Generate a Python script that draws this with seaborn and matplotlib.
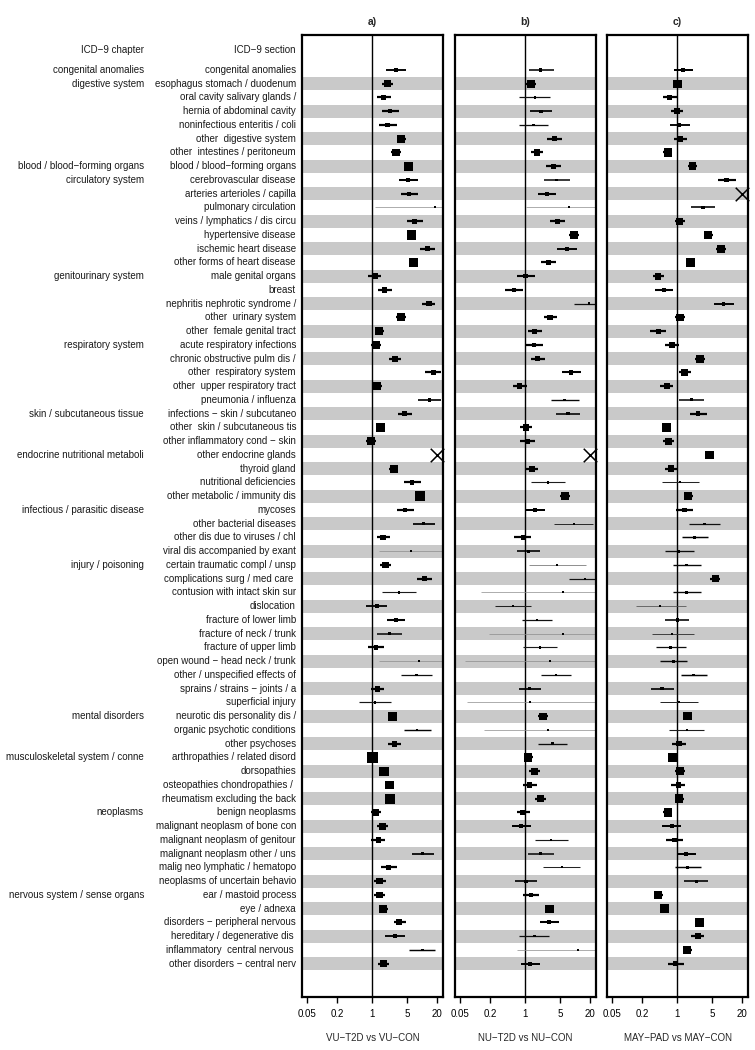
import numpy as np
import pandas as pd
import matplotlib
matplotlib.use('Agg')
import matplotlib.pyplot as plt
import matplotlib.transforms as mtransforms
import seaborn as sns

M = '\u2212'

sections = [
    'congenital anomalies', 'esophagus stomach / duodenum', 'oral cavity salivary glands /',
    'hernia of abdominal cavity', 'noninfectious enteritis / coli', 'other  digestive system',
    'other  intestines / peritoneum', f'blood / blood{M}forming organs', 'cerebrovascular disease',
    'arteries arterioles / capilla', 'pulmonary circulation', 'veins / lymphatics / dis circu',
    'hypertensive disease', 'ischemic heart disease', 'other forms of heart disease',
    'male genital organs', 'breast', 'nephritis nephrotic syndrome /', 'other  urinary system',
    'other  female genital tract', 'acute respiratory infections', 'chronic obstructive pulm dis /',
    'other  respiratory system', 'other  upper respiratory tract', 'pneumonia / influenza',
    f'infections {M} skin / subcutaneo', 'other  skin / subcutaneous tis',
    f'other inflammatory cond {M} skin', 'other endocrine glands', 'thyroid gland',
    'nutritional deficiencies', 'other metabolic / immunity dis', 'mycoses',
    'other bacterial diseases', 'other dis due to viruses / chl', 'viral dis accompanied by exant',
    'certain traumatic compl / unsp', 'complications surg / med care ', 'contusion with intact skin sur',
    'dislocation', 'fracture of lower limb', 'fracture of neck / trunk', 'fracture of upper limb',
    f'open wound {M} head neck / trunk', 'other / unspecified effects of',
    f'sprains / strains {M} joints / a', 'superficial injury', 'neurotic dis personality dis /',
    'organic psychotic conditions', 'other psychoses', 'arthropathies / related disord',
    'dorsopathies', 'osteopathies chondropathies / ', 'rheumatism excluding the back',
    'benign neoplasms', 'malignant neoplasm of bone con', 'malignant neoplasm of genitour',
    'malignant neoplasm other / uns', 'malig neo lymphatic / hematopo',
    'neoplasms of uncertain behavio', 'ear / mastoid process', 'eye / adnexa',
    f'disorders {M} peripheral nervous', 'hereditary / degenerative dis ',
    'inflammatory  central nervous ', f'other disorders {M} central nerv',
]

chapters = [
    'congenital anomalies', 'digestive system', f'blood / blood{M}forming organs',
    'circulatory system', 'genitourinary system', 'respiratory system',
    'skin / subcutaneous tissue', 'endocrine nutritional metaboli',
    'infectious / parasitic disease', 'injury / poisoning', 'mental disorders',
    'musculoskeletal system / conne', 'neoplasms', 'nervous system / sense organs',
]
chapter_rows = [1, 2, 8, 9, 16, 21, 26, 29, 33, 37, 48, 51, 55, 61]

nan = np.nan
# panel a: VU-T2D vs VU-CON
or_a = [3.0, 2.03, 1.68, 2.29, 2.03, 3.8, 2.97, 5.4, 5.3, 5.4, 18, 7.0, 6.1, 12.8, 6.7,
        1.13, 1.79, 13.6, 3.8, 1.4, 1.2, 2.88, 17, 1.24, 14.0, 4.5, 1.49, 0.94, nan, 2.71,
        6.3, 9.0, 4.6, 10.6, 1.66, 6.0, 1.88, 10.9, 3.4, 1.24, 2.97, 2.19, 1.2, 8.6, 7.7,
        1.28, 1.13, 2.6, 7.9, 2.8, 1.03, 1.74, 2.22, 2.29, 1.18, 1.63, 1.32, 10.2, 2.12,
        1.42, 1.4, 1.66, 3.47, 2.88, 10.0, 1.66]
lo_a = [1.9, 1.6, 1.24, 1.58, 1.4, 3.1, 2.36, 4.45, 3.5, 3.7, 1.17, 4.9, 5.1, 9.1, 5.5,
        0.83, 1.3, 9.7, 3.05, 1.13, 0.95, 2.2, 11.6, 1.0, 8.4, 3.3, 1.22, 0.76, nan, 2.2,
        4.3, 7.6, 3.1, 6.5, 1.24, 1.36, 1.45, 7.7, 1.58, 0.76, 1.96, 1.24, 0.83, 1.36, 3.85,
        0.95, 0.54, 2.15, 4.3, 2.06, 0.89, 1.45, 1.82, 1.93, 0.95, 1.26, 0.95, 6.2, 1.51,
        1.1, 1.1, 1.35, 2.7, 1.79, 5.5, 1.3]
hi_a = [4.8, 2.6, 2.4, 3.4, 3.1, 4.8, 3.74, 6.6, 8.3, 8.2, 60, 10.3, 7.4, 18.4, 8.2,
        1.54, 2.55, 18.4, 4.7, 1.74, 1.5, 3.8, 24, 1.55, 24, 6.3, 1.8, 1.2, nan, 3.35,
        9.4, 10.7, 6.9, 17.6, 2.29, 50, 2.4, 15.6, 7.6, 2.0, 4.6, 4.0, 1.74, 50, 15.6,
        1.76, 2.4, 3.15, 14.9, 3.8, 1.2, 2.1, 2.7, 2.7, 1.51, 2.1, 1.85, 17, 3.1,
        1.88, 1.82, 2.05, 4.8, 4.6, 18.4, 2.15]

# panel b: NU-T2D vs NU-CON
or_b = [2.06, 1.32, 1.58, 2.06, 1.47, 3.86, 1.71, 3.68, 4.3, 2.7, 7.5, 4.4, 9.4, 6.8, 2.9,
        1.02, 0.6, 19, 3.16, 1.56, 1.51, 1.79, 8.4, 0.78, 6.2, 7.2, 1.05, 1.11, nan, 1.36,
        2.84, 6.2, 1.58, 9.3, 0.9, 1.15, 4.4, 15.6, 5.6, 0.58, 1.74, 5.8, 2.0, 3.16, 4.1,
        1.24, 1.26, 2.29, 2.93, 3.5, 1.16, 1.56, 1.22, 2.0, 0.91, 0.83, 3.3, 2.03, 5.4,
        1.05, 1.3, 3.07, 3.0, 1.54, 11.3, 1.26]
lo_b = [1.2, 1.05, 0.76, 1.26, 0.74, 2.8, 1.3, 2.6, 2.4, 1.8, 1.05, 3.16, 7.6, 4.4, 2.1,
        0.68, 0.4, 9.5, 2.4, 1.17, 1.05, 1.3, 5.5, 0.58, 3.3, 4.2, 0.8, 0.79, nan, 1.05,
        1.3, 5.0, 1.05, 3.8, 0.61, 0.68, 1.18, 7.5, 0.13, 0.25, 0.86, 0.19, 0.93, 0.063, 2.06,
        0.76, 0.07, 1.82, 0.15, 1.8, 0.94, 1.22, 0.9, 1.55, 0.68, 0.54, 1.56, 1.15, 2.3,
        0.62, 0.9, 2.5, 2.0, 0.77, 0.68, 0.82]
hi_b = [3.7, 1.65, 3.16, 3.4, 2.9, 5.5, 2.3, 5.3, 7.7, 4.2, 50, 6.2, 11.7, 11.0, 4.1,
        1.56, 0.9, 38, 4.4, 2.2, 2.26, 2.55, 12.9, 1.08, 12.0, 12.6, 1.38, 1.56, nan, 1.8,
        6.4, 7.7, 2.55, 22.6, 1.34, 2.0, 16.3, 32, 60, 1.32, 3.5, 60, 4.4, 60, 8.4,
        2.06, 60, 2.9, 60, 6.8, 1.44, 2.0, 1.71, 2.6, 1.26, 1.3, 7.2, 3.7, 12.6,
        1.76, 1.93, 3.8, 4.7, 3.07, 60, 2.0]

# panel c: MAY-PAD vs MAY-CON
or_c = [1.34, 1.02, 0.71, 0.98, 1.11, 1.13, 0.65, 2.03, 9.7, nan, 3.3, 1.13, 4.16, 7.5, 1.85,
        0.42, 0.55, 8.4, 1.15, 0.42, 0.79, 2.88, 1.42, 0.62, 1.93, 2.63, 0.61, 0.67, 4.4, 0.75,
        1.13, 1.68, 1.4, 3.5, 2.26, 1.06, 1.54, 5.75, 1.54, 0.46, 1.0, 0.79, 0.74, 0.86, 2.15,
        0.5, 1.1, 1.6, 1.55, 1.1, 0.8, 1.15, 1.05, 1.1, 0.66, 0.8, 0.88, 1.5, 1.6,
        2.4, 0.42, 0.56, 2.8, 2.6, 1.6, 0.93]
lo_c = [0.87, 0.83, 0.53, 0.75, 0.71, 0.85, 0.53, 1.63, 6.5, nan, 1.93, 0.9, 3.4, 6.1, 1.5,
        0.33, 0.36, 5.4, 0.93, 0.29, 0.57, 2.3, 1.11, 0.46, 1.11, 1.82, 0.5, 0.53, 3.6, 0.58,
        0.49, 1.36, 0.96, 1.76, 1.26, 0.57, 0.82, 4.5, 0.82, 0.15, 0.58, 0.31, 0.38, 0.46, 1.18,
        0.3, 0.45, 1.3, 0.7, 0.8, 0.66, 0.93, 0.75, 0.9, 0.53, 0.5, 0.6, 1.0, 0.9,
        1.4, 0.34, 0.46, 2.3, 1.9, 1.3, 0.65]
hi_c = [2.1, 1.26, 0.98, 1.34, 1.82, 1.56, 0.81, 2.55, 14.7, nan, 5.75, 1.47, 5.1, 9.3, 2.3,
        0.56, 0.84, 13.4, 1.47, 0.6, 1.11, 3.6, 1.88, 0.84, 3.5, 3.9, 0.74, 0.87, 5.4, 0.98,
        2.7, 2.1, 2.06, 7.2, 4.16, 2.15, 2.97, 7.3, 3.0, 1.51, 1.74, 2.19, 1.51, 1.61, 3.9,
        0.85, 2.6, 1.95, 3.5, 1.5, 0.97, 1.42, 1.45, 1.35, 0.8, 1.2, 1.3, 2.4, 3.0,
        4.1, 0.52, 0.68, 3.4, 3.5, 2.0, 1.35]

# rows whose estimate lies beyond the plotted range
off_a = [29]
off_b = [29]
off_c = [10]

panel_titles = ['a)', 'b)', 'c)']
comparisons = [f'VU{M}T2D vs VU{M}CON', f'NU{M}T2D vs NU{M}CON', f'MAY{M}PAD vs MAY{M}CON']
x_ticks = [0.05, 0.2, 1, 5, 20]
x_ticklabels = ['0.05', '0.2', '1', '5', '20']

sns.set_theme(style='white')
plt.rcParams['font.family'] = ['Liberation Sans', 'DejaVu Sans']

W, H = 755, 1050
fig = plt.figure(figsize=(W / 100, H / 100), dpi=100)

rows = np.arange(1, len(sections) + 1)
XLIM = (0.04, 26)
YLIM = (68.42, -1.545)
panel_left = [302, 455, 607]
panel_w, panel_top, panel_bot = 141, 35, 997
FS = 7.0


def draw_panel(ax, odds, lo, hi, off_rows, title, xlabel):
    df = pd.DataFrame({'row': rows, 'or': odds, 'lo': lo, 'hi': hi}).dropna()
    ax.set_xscale('log')
    for r in rows[1::2]:
        ax.axhspan(r - 0.48, r + 0.48, color='#c9c9c9', lw=0, zorder=0)
    ax.axvline(1, color='black', lw=1.0, zorder=1)

    # box size and line weight follow the precision of each estimate
    width = np.log10(df['hi'] / df['lo']).to_numpy()
    lw = np.clip(0.55 / width, 0.5, 1.6)
    grey = np.clip((width - 0.5) * 0.6, 0, 0.55)
    ax.hlines(df['row'], df['lo'], df['hi'], colors=[(g, g, g) for g in grey],
              linewidths=lw, zorder=2)

    side_pt = np.clip(1.5 / width, 2.0, 13) * 72 / fig.dpi
    sns.scatterplot(data=df, x='or', y='row', marker='s', s=side_pt ** 2,
                    color='black', linewidth=0, legend=False, ax=ax, zorder=3)

    ax.scatter([XLIM[1] / 1.3] * len(off_rows), off_rows, marker='x', s=95,
               color='black', linewidths=1.1, zorder=4, clip_on=False)

    ax.set_xlim(*XLIM)
    ax.set_ylim(*YLIM)
    ax.set_yticks([])
    ax.set_xticks(x_ticks)
    ax.set_xticklabels(x_ticklabels)
    ax.minorticks_off()
    ax.tick_params(axis='x', direction='out', length=4.5, width=1, pad=4,
                   labelsize=FS, bottom=True, colors='black')
    for sp in ax.spines.values():
        sp.set_linewidth(1.6)
        sp.set_color('black')
    ax.set_title(title, fontsize=7.5, fontweight='bold', pad=7)
    ax.set_xlabel(xlabel, fontsize=FS, labelpad=10)
    ax.set_ylabel('')


data = [(or_a, lo_a, hi_a, off_a), (or_b, lo_b, hi_b, off_b), (or_c, lo_c, hi_c, off_c)]
axes = []
for left, (o, l, h, off), title, lab in zip(panel_left, data, panel_titles, comparisons):
    ax = fig.add_axes([left / W, 1 - panel_bot / H, panel_w / W, (panel_bot - panel_top) / H])
    draw_panel(ax, o, l, h, off, title, lab)
    axes.append(ax)

# row labels on the left, placed in figure x / data y coordinates
trans = mtransforms.blended_transform_factory(fig.transFigure, axes[0].transData)
chap_x, sect_x = 144 / W, 296 / W
txt = dict(transform=trans, ha='right', va='center', fontsize=FS, color='#1a1a1a', clip_on=False)
axes[0].text(chap_x, -0.45, f'ICD{M}9 chapter', **txt)
axes[0].text(sect_x, -0.45, f'ICD{M}9 section', **txt)
for r, s in zip(rows, sections):
    axes[0].text(sect_x, r, s, **txt)
for r, c in zip(chapter_rows, chapters):
    axes[0].text(chap_x, r, c, **txt)

fig.savefig('out.png', dpi=100)
